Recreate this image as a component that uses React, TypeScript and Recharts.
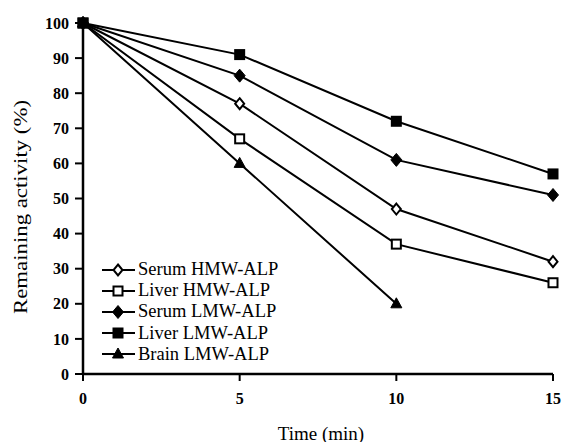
import React from "react";
import { LineChart, Line, XAxis, YAxis, Legend, Label } from "recharts";

const times = [0, 5, 10, 15];
const serumHMW = [100, 77, 47, 32];
const liverHMW = [100, 67, 37, 26];
const serumLMW = [100, 85, 61, 51];
const liverLMW = [100, 91, 72, 57];
const brainLMW = [100, 60, 20, null];
const yTicks = [0, 10, 20, 30, 40, 50, 60, 70, 80, 90, 100];
const xTicks = [0, 5, 10, 15];

const seriesNames = [
  "Serum HMW-ALP",
  "Liver HMW-ALP",
  "Serum LMW-ALP",
  "Liver LMW-ALP",
  "Brain LMW-ALP",
];
const seriesKeys = ["serumHMW", "liverHMW", "serumLMW", "liverLMW", "brainLMW"];
const markerTypes = ["diamondOpen", "squareOpen", "diamond", "square", "triangle"];

const data = times.map((t, i) => ({
  t,
  serumHMW: serumHMW[i],
  liverHMW: liverHMW[i],
  serumLMW: serumLMW[i],
  liverLMW: liverLMW[i],
  brainLMW: brainLMW[i],
}));

const FONT = "Liberation Serif, Times New Roman, serif";

function Marker({ type, cx, cy, k }: { type: string; cx: number; cy: number; k?: string }) {
  if (cx == null || cy == null || isNaN(cx) || isNaN(cy)) return <g key={k} />;
  switch (type) {
    case "diamondOpen":
      return (
        <polygon key={k} points={`${cx},${cy - 5.5} ${cx + 4.5},${cy} ${cx},${cy + 5.5} ${cx - 4.5},${cy}`} fill="#fff" stroke="#000" strokeWidth={2} />
      );
    case "diamond":
      return (
        <polygon key={k} points={`${cx},${cy - 6.5} ${cx + 5.5},${cy} ${cx},${cy + 6.5} ${cx - 5.5},${cy}`} fill="#000" stroke="#000" strokeWidth={1} />
      );
    case "squareOpen":
      return <rect key={k} x={cx - 4.5} y={cy - 4.5} width={9} height={9} fill="#fff" stroke="#000" strokeWidth={2} />;
    case "square":
      return <rect key={k} x={cx - 5.5} y={cy - 5.5} width={11} height={11} fill="#000" />;
    case "triangle":
      return <polygon key={k} points={`${cx},${cy - 6} ${cx + 5.5},${cy + 4} ${cx - 5.5},${cy + 4}`} fill="#000" stroke="#000" strokeWidth={1} />;
  }
  return <g key={k} />;
}

const makeDot = (type: string) => (props: any) => (
  <Marker key={`${type}-${props.index}`} k={`${type}-${props.index}`} type={type} cx={props.cx} cy={props.cy} />
);

const LegendContent = () => (
  <div style={{ fontFamily: FONT, fontSize: 18.5, color: "#000", width: 220 }}>
    {seriesNames.map((name, i) => (
      <div key={name} style={{ display: "flex", alignItems: "center", height: 21.2 }}>
        <svg width={38} height={16} style={{ display: "block" }}>
          <line x1={2} y1={8} x2={35} y2={8} stroke="#000" strokeWidth={2} />
          <Marker type={markerTypes[i]} cx={18} cy={8} />
        </svg>
        <span style={{ lineHeight: "21px", whiteSpace: "nowrap" }}>{name}</span>
      </div>
    ))}
  </div>
);

const YLabel = () => {
  const cx = 20;
  const cy = 207;
  return (
    <text
      x={cx}
      y={cy}
      transform={`rotate(-90 ${cx} ${cy})`}
      textAnchor="middle"
      dominantBaseline="central"
      style={{ fontFamily: FONT, fontSize: 19 }}
      textLength={214}
      lengthAdjust="spacingAndGlyphs"
      fill="#000"
    >
      Remaining activity (%)
    </text>
  );
};

const XLabel = () => (
  <text x={321} y={433} textAnchor="middle" dominantBaseline="central" style={{ fontFamily: FONT, fontSize: 19 }} fill="#000">
    Time (min)
  </text>
);

const tickStyle = { fill: "#000", fontSize: 16, fontWeight: "bold", style: { fontFamily: FONT } } as any;

export default function App() {
  return (
    <div style={{ position: "absolute", left: 0, top: 0, width: 568, height: 442, background: "#fff", fontFamily: FONT }}>
      <LineChart width={568} height={442} data={data} margin={{ top: 23, right: 15, left: 0, bottom: 0 }} style={{ fontFamily: FONT }}>
        <XAxis
          dataKey="t"
          type="number"
          domain={[0, 15]}
          ticks={xTicks}
          height={68}
          tickSize={7}
          tickMargin={12}
          axisLine={{ stroke: "#000", strokeWidth: 2.5 }}
          tickLine={{ stroke: "#000", strokeWidth: 2 }}
          tick={tickStyle}
        >
          <Label content={<XLabel />} />
        </XAxis>
        <YAxis
          type="number"
          domain={[0, 100]}
          ticks={yTicks}
          width={83}
          tickSize={8}
          tickMargin={6}
          axisLine={{ stroke: "#000", strokeWidth: 2.5 }}
          tickLine={{ stroke: "#000", strokeWidth: 2 }}
          tick={tickStyle}
        >
          <Label content={<YLabel />} />
        </YAxis>
        <Legend
          content={<LegendContent />}
          wrapperStyle={{ position: "absolute", left: 100, top: 259, width: 0, height: 0, overflow: "visible", bottom: "auto", right: "auto" }}
        />
        {seriesKeys.map((key, i) => (
          <Line
            key={key}
            dataKey={key}
            name={seriesNames[i]}
            stroke="#000"
            strokeWidth={2}
            dot={makeDot(markerTypes[i])}
            activeDot={false}
            isAnimationActive={false}
            connectNulls={false}
          />
        ))}
      </LineChart>
    </div>
  );
}
